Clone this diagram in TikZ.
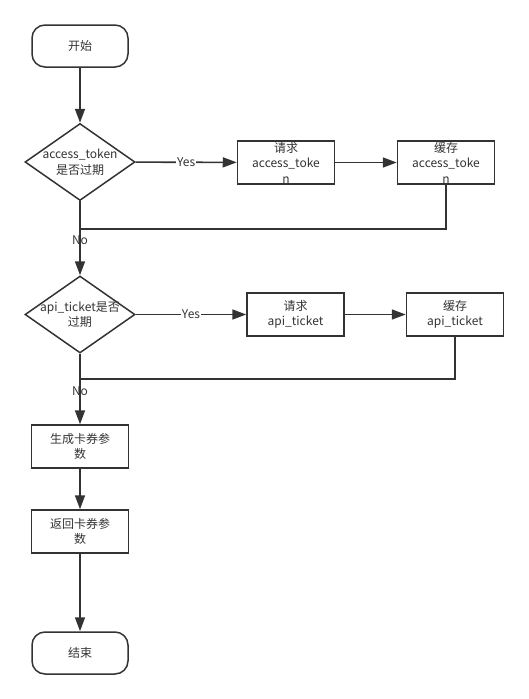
\documentclass[tikz,border=0pt]{standalone}
\usepackage{fontspec}
\setmainfont{Noto Sans CJK SC}
\usetikzlibrary{shapes.geometric,arrows.meta}
\definecolor{ink}{HTML}{333333}

\tikzset{
    terminal/.style={draw=ink, text=ink, line width=1.5pt, rounded corners=13pt, minimum width=96pt, minimum height=42pt, inner sep=0pt, font=\fontsize{12}{15.5}\selectfont},
    process/.style={draw=ink, text=ink, line width=1.5pt, minimum width=97pt, minimum height=43pt, inner sep=0pt, align=center, font=\fontsize{12}{15.5}\selectfont},
    decision/.style={draw=ink, line width=1.5pt, diamond, minimum width=110pt, minimum height=77pt, inner sep=0pt},
    tag/.style={text=ink, inner sep=1pt, align=center, font=\fontsize{12}{15.5}\selectfont},
    flow/.style={draw=ink, line width=1.6pt, -{Triangle[length=14pt,width=10pt]}},
    back/.style={draw=ink, line width=1.6pt},
}

\begin{document}
\begin{tikzpicture}[x=1pt, y=-1pt]
            \useasboundingbox (0,0) rectangle (528,699);

            % main column
            \node[terminal] (start) at (80,46) {开始};
            \node[decision, label={[tag]center:access\_token\\是否过期}] (tokexp) at (80,162) {};
            \node[decision, label={[tag]center:api\_ticket是否\\过期}] (tickexp) at (80,314.5) {};
            \node[process] (makecard) at (80,446.5) {生成卡券参\\数};
            \node[process] (retcard) at (80,531.5) {返回卡券参\\数};
            \node[terminal] (stop) at (80,653) {结束};

            % side branches
            \node[process] (reqtok) at (286,162.5) {请求\\access\_toke\\n};
            \node[process] (savetok) at (446,162.5) {缓存\\access\_toke\\n};
            \node[process] (reqtick) at (295.5,314.5) {请求\\api\_ticket};
            \node[process] (savetick) at (455,314.5) {缓存\\api\_ticket};

            \coordinate (tokjoin) at (80,229);
            \coordinate (tickjoin) at (80,379);

            \draw[flow] (start) -- (tokexp);
            \draw[flow] (tokexp) -- node[tag, fill=white] {Yes} (reqtok);
            \draw[flow] (reqtok) -- (savetok);
            \draw[back] (savetok.south) |- (tokjoin);
            \draw[flow] (tokexp) -- node[tag, pos=0.53] {No} (tickexp);

            \draw[flow] (tickexp) -- node[tag, fill=white] {Yes} (reqtick);
            \draw[flow] (reqtick) -- (savetick);
            \draw[back] (savetick.south) |- (tickjoin);
            \draw[flow] (tickexp) -- node[tag, pos=0.53] {No} (makecard);

            \draw[flow] (makecard) -- (retcard);
            \draw[flow] (retcard) -- (stop);

        \end{tikzpicture}
\end{document}
